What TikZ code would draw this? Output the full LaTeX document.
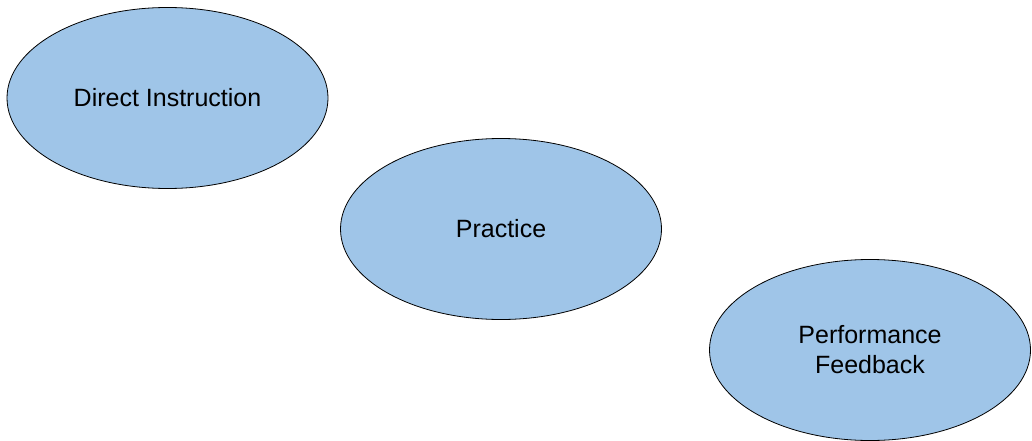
\documentclass[tikz,border=0pt]{standalone}
\usepackage{fontspec}
\setmainfont{Liberation Sans}
\usetikzlibrary{shapes.geometric}
\definecolor{bubble}{HTML}{9FC5E8}
\tikzset{
  bubblenode/.style={ellipse, draw=black, line width=0.8pt, fill=bubble,
    minimum width=321pt, minimum height=181pt, inner sep=0pt,
    align=center, font=\fontsize{25}{30}\selectfont}
}
\begin{document}
\begin{tikzpicture}[x=1pt,y=-1pt]
\useasboundingbox (0,0) rectangle (1032,441);
\node[bubblenode] (di) at (167.5,98) {Direct Instruction};
\node[bubblenode] (pr) at (501,229) {Practice};
\node[bubblenode] (pf) at (870,350) {Performance\\Feedback};
\end{tikzpicture}
\end{document}
